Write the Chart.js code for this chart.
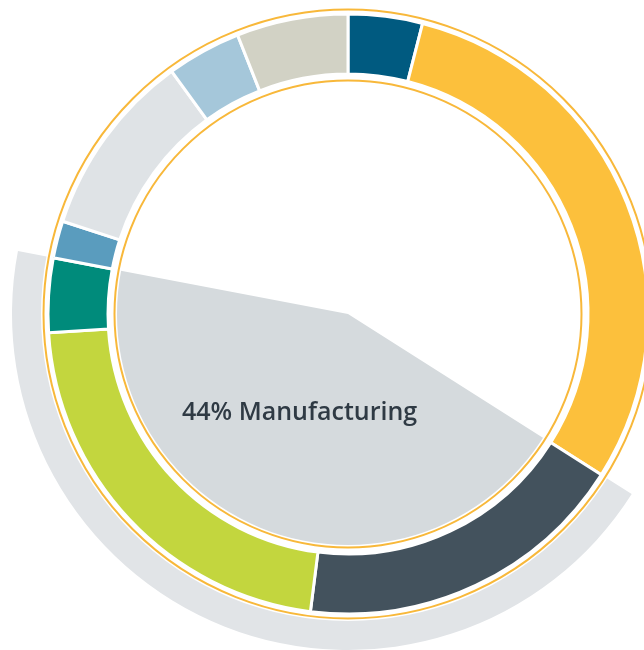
<!DOCTYPE html>
<html>
<head>
<meta charset="utf-8">
<script src="https://cdn.jsdelivr.net/npm/chart.js@4/dist/chart.umd.min.js"></script>
<style>
  html, body { margin: 0; padding: 0; background: #fff; overflow: hidden; }
  body { width: 644px; height: 650px; position: relative; }
  .layer { position: absolute; left: 8px; top: -26px; width: 680px; height: 680px; }
  .caption {
    position: absolute; left: 182px; top: 398px;
    font-family: "Open Sans", sans-serif; font-size: 25px; font-weight: 600; line-height: 1;
    color: #2f3a44; white-space: nowrap;
  }
</style>
</head>
<body>
<div class="layer"><canvas id="highlight"></canvas></div>
<div class="layer"><canvas id="ring"></canvas></div>
<div class="caption">44% Manufacturing</div>

<script>
// shares in percent, clockwise from 12 o'clock
const sectors = ['Segment 1', 'Segment 2', 'Manufacturing A', 'Manufacturing B', 'Manufacturing C',
                 'Segment 6', 'Segment 7', 'Segment 8', 'Segment 9'];
const shares = [4, 30, 18, 22, 4, 2, 10, 4, 6];
const colors = ['#005a80', '#fcc03c', '#43525d', '#c3d63e', '#008b7b',
                '#5a9cbe', '#dfe3e6', '#a5c7da', '#d2d2c5'];
const manufacturing = [2, 3, 4]; // indexes inside shares

const total = shares.reduce((a, b) => a + b, 0);
const mfgShare = manufacturing.reduce((a, i) => a + shares[i], 0);
const mfgStart = shares.slice(0, manufacturing[0]).reduce((a, b) => a + b, 0);

// grey wedge behind the ring: light outer band, darker inner slice
new Chart(document.getElementById('highlight'), {
    type: 'doughnut',
    data: {
        labels: ['Manufacturing', 'Other'],
        datasets: [
            {
                data: [mfgShare, total - mfgShare],
                backgroundColor: ['#e1e4e7', 'rgba(0,0,0,0)'],
                borderWidth: 0,
                weight: 66
            },
            {
                data: [mfgShare, total - mfgShare],
                backgroundColor: ['#d5dadd', 'rgba(0,0,0,0)'],
                borderWidth: 0,
                weight: 270
            }
        ]
    },
    options: {
        responsive: true,
        maintainAspectRatio: false,
        animation: false,
        events: [],
        radius: 336,
        cutout: 0,
        rotation: mfgStart / total * 360,
        plugins: { legend: { display: false }, tooltip: { enabled: false } }
    }
});

// white band with thin orange rims under the segments
const ringFrame = {
    id: 'ringFrame',
    beforeDatasetsDraw(chart) {
        const arc = chart.getDatasetMeta(0).data[0];
        if (!arc) return;
        const { x, y } = arc;
        const ctx = chart.ctx;
        ctx.save();
        ctx.beginPath();
        ctx.arc(x, y, 307, 0, Math.PI * 2);
        ctx.arc(x, y, 231, 0, Math.PI * 2, true);
        ctx.fillStyle = '#fff';
        ctx.fill('evenodd');
        ctx.strokeStyle = '#f8b83a';
        ctx.lineWidth = 2;
        ctx.beginPath();
        ctx.arc(x, y, 304.5, 0, Math.PI * 2);
        ctx.stroke();
        ctx.beginPath();
        ctx.arc(x, y, 233.5, 0, Math.PI * 2);
        ctx.stroke();
        ctx.restore();
    }
};

new Chart(document.getElementById('ring'), {
    type: 'doughnut',
    data: {
        labels: sectors,
        datasets: [{
            data: shares,
            backgroundColor: colors,
            borderColor: '#fff',
            borderWidth: 3
        }]
    },
    options: {
        responsive: true,
        maintainAspectRatio: false,
        animation: false,
        events: [],
        radius: 300,
        cutout: '80%',
        plugins: { legend: { display: false }, tooltip: { enabled: false } }
    },
    plugins: [ringFrame]
});
</script>
</body>
</html>
